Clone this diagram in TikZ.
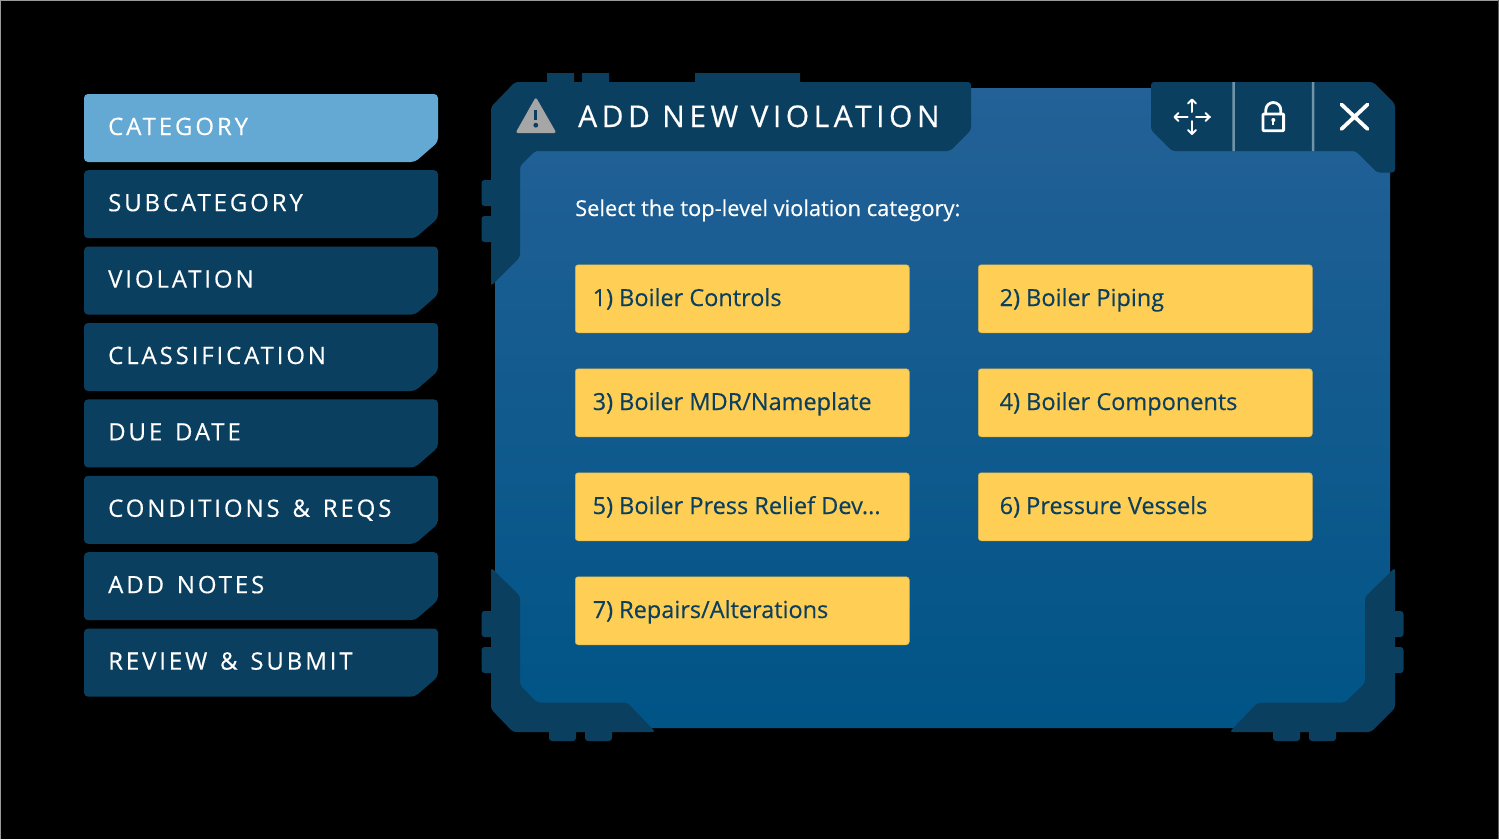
\documentclass[tikz,border=0pt]{standalone}
\usepackage{fontspec}
\setmainfont[FakeBold=0.3]{Open Sans}
\newfontfamily\tabfont[LetterSpace=12,WordSpace=1.4,FakeBold=0.3]{Open Sans}
\newfontfamily\titlefont[LetterSpace=15,FakeBold=0.4]{Open Sans}
\definecolor{darkpanel}{HTML}{0B3F5F}
\definecolor{lightpanel}{HTML}{64A9D4}
\definecolor{amber}{HTML}{FFCE54}
\definecolor{bodytop}{HTML}{236197}
\definecolor{bodybottom}{HTML}{005486}
\definecolor{sep}{HTML}{6F93A8}
\definecolor{warn}{HTML}{A6A6A6}
\definecolor{edge}{HTML}{9A9A9A}
\tikzset{
  frame/.style={fill=darkpanel,draw=none,rounded corners=3pt},
  tabtext/.style={anchor=base west,inner sep=0pt,text=white,font=\tabfont\fontsize{24}{24}\selectfont},
  titletext/.style={anchor=base west,inner sep=0pt,text=white,font=\titlefont\fontsize{30}{30}\selectfont},
  prompt/.style={anchor=base west,inner sep=0pt,text=white,font=\fontsize{21.9}{22}\selectfont},
  choice/.style={anchor=north west,minimum width=334pt,minimum height=68pt,inner sep=0pt,fill=amber,draw=amber!85!black,line width=.5pt,rounded corners=3pt},
  choicetext/.style={anchor=base west,inner sep=0pt,text=darkpanel,font=\fontsize{23.5}{24}\selectfont},
  icon/.style={draw=white,line cap=round,line join=round,fill=none},
}
\newcommand{\sidetab}[4]{%
  \fill[#1,rounded corners=4pt] (84,#2) -- (438,#2) -- (438,#2+48) -- (415,#2+68) -- (84,#2+68) -- cycle;
  \node[tabtext] (#3) at (108,#2+41) {#4};}
\newcommand{\choicebox}[5]{%
  \node[choice] (#1) at (#2,#3) {};
  \node[choicetext] (#1t) at (#2+17.5,#3+41.5) {#4#5};}
\begin{document}
\begin{tikzpicture}[x=1pt,y=-1pt]
\useasboundingbox (0,0) rectangle (1499,839);
\fill[black] (0,0) rectangle (1499,839);
\fill[edge] (0,0) rectangle (1499,.8) (0,0) rectangle (.8,839);
\fill[edge!60!black] (1498.2,0) rectangle (1499,839);
% sidebar
\sidetab{lightpanel}{94}{s1}{CATEGORY}
\sidetab{darkpanel}{170.2}{s2}{SUBCATEGORY}
\sidetab{darkpanel}{246.6}{s3}{VIOLATION}
\sidetab{darkpanel}{323}{s4}{CLASSIFICATION}
\sidetab{darkpanel}{399.4}{s5}{DUE DATE}
\sidetab{darkpanel}{475.8}{s6}{CONDITIONS \& REQS}
\sidetab{darkpanel}{552.2}{s7}{ADD NOTES}
\sidetab{darkpanel}{628.6}{s8}{REVIEW \& SUBMIT}
% body
\shade[top color=bodytop,bottom color=bodybottom] (520,88) -- (1372,88) -- (1390,106) -- (1390,705) -- (1367,728) -- (518,728) -- (495,705) -- (495,112) -- cycle;
% bumps
\fill[darkpanel] (547,73) rectangle (574,83) (582,73) rectangle (609,83) (695,73) rectangle (800,83);
\foreach \yy in {180,216,611,647}{
  \fill[darkpanel,rounded corners=3pt] (494,\yy) -- (481.5,\yy) -- (481.5,\yy+26) -- (494,\yy+26) -- cycle;}
\foreach \yy in {611,647}{
  \fill[darkpanel,rounded corners=3pt] (1392,\yy) -- (1403.5,\yy) -- (1403.5,\yy+26) -- (1392,\yy+26) -- cycle;}
\foreach \xx in {549,585,1273,1309}{
  \fill[darkpanel,rounded corners=3pt] (\xx,729) -- (\xx,741) -- (\xx+27,741) -- (\xx+27,729) -- cycle;}
% top-left frame with title tab
\fill[frame] (491,285) -- (491,107) -- (515,82) -- (971,82) -- (971,130) -- (950,151)
  -- (535,151) -- (520,166) -- (520,257) -- (491,286) -- cycle;
% top-right frame
\fill[frame] (1151,82) -- (1373,82) -- (1395,104) -- (1395,172.5) -- (1377,172.5) -- (1355.5,151)
  -- (1172,151) -- (1151,130) -- cycle;
\fill[sep] (1232.3,82) rectangle (1234.8,151) (1311.9,82) rectangle (1314.4,151);
% bottom-left frame
\fill[frame] (491,567.5) -- (520,596) -- (520,685) -- (537,702.5) -- (627,702.5) -- (655.5,732) -- (513,732)
  -- (491,709) -- cycle;
% bottom-right frame
\fill[frame] (1395,567.5) -- (1365,597) -- (1365,683) -- (1345,702.5) -- (1258,702.5) -- (1229.5,732) -- (1371,732)
  -- (1395,708) -- cycle;
% warning icon
\fill[warn,rounded corners=2.5pt] (535.8,97) -- (556.5,133) -- (515.5,133) -- cycle;
\draw[darkpanel,line width=3.2pt] (535.8,109.5) -- (535.8,120);
\fill[darkpanel] (535.8,125.2) circle (2.4pt);
\node[titletext] (title) at (578,127) {ADD NEW VIOLATION};
% move icon
\draw[icon,line width=2pt] (1192,100) -- (1192,112) (1192,121) -- (1192,134) (1175,117) -- (1187.5,117) (1196,117) -- (1210,117);
\draw[icon,line width=2pt] (1188,103.5) -- (1192,99.5) -- (1196,103.5) (1188,130) -- (1192,134) -- (1196,130)
  (1178.5,113) -- (1174.5,117) -- (1178.5,121) (1205.5,113) -- (1209.5,117) -- (1205.5,121);
% lock icon
\draw[icon,line width=2.8pt,rounded corners=.8pt] (1263,114) rectangle (1283.6,130.8);
\draw[icon,line width=2.8pt] (1265.8,114) -- (1265.8,110) arc[start angle=180,end angle=360,radius=7.5] -- (1280.8,114);
\fill[white] (1273.3,120) circle (2pt);
\draw[icon,line width=1.8pt,line cap=butt] (1273.3,120) -- (1273.3,125);
% close icon
\draw[icon,line width=3.8pt] (1341.5,104.5) -- (1367.5,129) (1367.5,104.5) -- (1341.5,129);
% content
\node[prompt] (prompt) at (575,216) {Select the top-level violation category:};
\choicebox{c1}{575}{264.5}{1) Boiler }{Controls}
\choicebox{c2}{978}{264.5}{\hspace{4pt}2) Boiler }{Piping}
\choicebox{c3}{575}{368.5}{3) Boiler }{MDR/Nameplate}
\choicebox{c4}{978}{368.5}{\hspace{4pt}4) Boiler }{Components}
\choicebox{c5}{575}{472.5}{5) Boiler }{Press Relief Dev...}
\choicebox{c6}{978}{472.5}{\hspace{4pt}6) Pressure }{Vessels}
\choicebox{c7}{575}{576.5}{7) Repairs/}{Alterations}
\end{tikzpicture}
\end{document}
